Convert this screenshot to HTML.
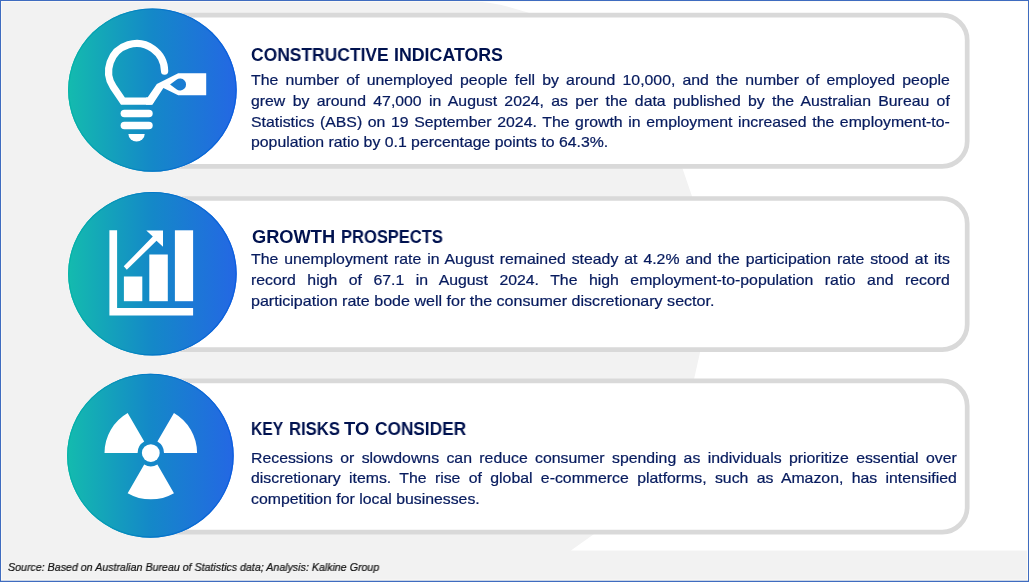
<!DOCTYPE html>
<html lang="en">
<head>
<meta charset="utf-8">
<title>Sector Indicators</title>
<style>
  html, body { margin: 0; padding: 0; }
  body { width: 1029px; height: 582px; overflow: hidden; background: #f2f2f2; position: relative;
         font-family: "Liberation Sans", sans-serif; }
  #bg { position: absolute; left: 0; top: 0; width: 1029px; height: 582px; display: block; }
  .t { position: absolute; white-space: nowrap; transform-origin: 0 0; margin: 0; padding: 0; will-change: transform; }
  .hd { margin: 0; padding: 0; font-size: 0; line-height: 0; }
  .h { display: block; font-weight: bold; font-size: 17.6px; line-height: 20px; color: #00124f; }
  .para { margin: 0; padding: 0; font-size: 0; line-height: 0; }
  .b { display: block; font-size: 15px; line-height: 18px; color: #071b5e; -webkit-text-stroke: 0.22px #071b5e; }
  .j { text-align: justify; text-align-last: justify; }
  .src { display: block; font-style: italic; font-size: 10.9px; line-height: 14px; color: #111111; -webkit-text-stroke: 0.2px #111111; }
</style>
</head>
<body>
<svg id="bg" width="1029" height="582" viewBox="0 0 1029 582">
  <defs>
    <linearGradient id="g1" gradientUnits="userSpaceOnUse" x1="68" y1="0" x2="237" y2="0">
      <stop offset="0" stop-color="#14bbae"/>
      <stop offset="0.5" stop-color="#1488c8"/>
      <stop offset="1" stop-color="#2467e4"/>
    </linearGradient>
    <linearGradient id="g3" gradientUnits="userSpaceOnUse" x1="67" y1="0" x2="234" y2="0">
      <stop offset="0" stop-color="#14bbae"/>
      <stop offset="0.5" stop-color="#1488c8"/>
      <stop offset="1" stop-color="#2467e4"/>
    </linearGradient>
    <linearGradient id="r1" gradientUnits="userSpaceOnUse" x1="68" y1="0" x2="237" y2="0">
      <stop offset="0" stop-color="#05b4a8"/>
      <stop offset="0.5" stop-color="#0478c6"/>
      <stop offset="1" stop-color="#0b5de0"/>
    </linearGradient>
    <linearGradient id="r3" gradientUnits="userSpaceOnUse" x1="67" y1="0" x2="234" y2="0">
      <stop offset="0" stop-color="#05b4a8"/>
      <stop offset="0.5" stop-color="#0478c6"/>
      <stop offset="1" stop-color="#0b5de0"/>
    </linearGradient>
  </defs>

  <!-- page background -->
  <rect x="0" y="0" width="1029" height="582" fill="#f2f2f2"/>
  <!-- white area on the right with curved left boundary -->
  <path d="M470,1 C490,1.5 512,7 528,12.6 C612,48 668,112 682.6,168.7 L692,196.2 C706,250 707,305 700.1,351.9 L694.2,378.5 C680,440 645,500 593.4,534.4 L570.9,550.6 L1029,550.6 L1029,0 Z" fill="#ffffff"/>

  <!-- panels -->
  <g fill="#ffffff" stroke="#d9d9d9" stroke-width="4.7">
    <rect x="150" y="15.15" width="817.2" height="151.2" rx="25" ry="25"/>
    <rect x="150" y="198.5" width="817.2" height="151.1" rx="25" ry="25"/>
    <rect x="150" y="380.9" width="817.2" height="151.2" rx="25" ry="25"/>
  </g>

  <!-- circles -->
  <g>
    <ellipse cx="152.4" cy="90.1" rx="84.7" ry="82.1" fill="#fff7f5" opacity="0.8"/>
    <ellipse cx="152.4" cy="273.7" rx="84.7" ry="82.2" fill="#fff7f5" opacity="0.8"/>
    <ellipse cx="150.4" cy="455.65" rx="83.7" ry="82.4" fill="#fff7f5" opacity="0.8"/>
    <ellipse cx="152.4" cy="90.1" rx="84.3" ry="81.7" fill="url(#g1)"/>
    <ellipse cx="152.4" cy="273.7" rx="84.3" ry="81.8" fill="url(#g1)"/>
    <ellipse cx="150.4" cy="455.65" rx="83.3" ry="82" fill="url(#g3)"/>
    <ellipse cx="152.4" cy="90.1" rx="83.7" ry="81.1" fill="none" stroke="url(#r1)" stroke-width="1.2"/>
    <ellipse cx="152.4" cy="273.7" rx="83.7" ry="81.2" fill="none" stroke="url(#r1)" stroke-width="1.2"/>
    <ellipse cx="150.4" cy="455.65" rx="82.7" ry="81.4" fill="none" stroke="url(#r3)" stroke-width="1.2"/>
  </g>

  <!-- icon 1 : light bulb with tag -->
  <g id="bulb">
    <path d="M164.6,71.1 A28,28 0 1 0 113.3,87.1 L122.9,101.1 L150,101.1"
          fill="none" stroke="#ffffff" stroke-width="7.3" stroke-linecap="round" stroke-linejoin="miter" stroke-miterlimit="6"/>
    <path d="M147.56,97.45 L156.84,84.1 L178.2,73.3 L206.2,73.3 L206.2,95.2 L178.2,95.2 L163.4,88 L152.4,104.75 L146,104.75 L146,97.45 Z" fill="#ffffff"/>
    <path d="M170.05,84.4 L176.46,79.65 A6,6 0 1 1 176.46,89.25 Z" fill="url(#g1)"/>
    <rect x="120.6" y="109.65" width="32.1" height="7.55" rx="3.78" fill="#ffffff"/>
    <rect x="120.6" y="121.8" width="32.1" height="7.5" rx="3.75" fill="#ffffff"/>
    <path d="M128.4,133.9 L144.7,133.9 A8.15,7.6 0 0 1 128.4,133.9 Z" fill="#ffffff"/>
  </g>

  <!-- icon 2 : bar chart with arrow -->
  <g id="chart" fill="#ffffff">
    <path d="M109.4,230.3 H117.1 V308 H193.1 V315.6 H109.4 Z"/>
    <rect x="123.9" y="276.5" width="18.4" height="24.7"/>
    <rect x="149.3" y="254.5" width="18.5" height="46.7"/>
    <rect x="174.9" y="230.3" width="18.2" height="70.9"/>
    <path d="M146.3,230.4 L163,230.4 L163,246.8 L156.5,240.8 L126.8,269.7 L123.75,266.3 L152.8,236.6 Z"/>
  </g>

  <!-- icon 3 : radiation -->
  <g id="rad" fill="#ffffff" transform="translate(0,0.5)">
    <circle cx="150.8" cy="452.55" r="8.9"/>
    <path d="M104.5,452.55 A46.3,46.3 0 0 1 127.65,412.45 L144.2,441.12 A13.2,13.2 0 0 0 137.6,452.55 Z"/>
    <path d="M197.1,452.55 A46.3,46.3 0 0 0 173.95,412.45 L157.4,441.12 A13.2,13.2 0 0 1 164,452.55 Z"/>
    <path d="M127.65,492.65 A46.3,46.3 0 0 0 173.95,492.65 L157.4,463.98 A13.2,13.2 0 0 1 144.2,463.98 Z"/>
  </g>

  <!-- outer frame -->
  <path d="M1.5,580 V1.5 H1027" fill="none" stroke="#fdfbf6" stroke-width="1" opacity="0.75"/>
  <path d="M1,580.2 H1027.5 V1" fill="none" stroke="#fefcf7" stroke-width="1"/>
  <rect x="0.5" y="0.5" width="1028" height="581" fill="none" stroke="#3f6cc0" stroke-width="1"/>
  <rect x="0" y="580.75" width="1029" height="1.25" fill="#3f6cc0"/>
</svg>

<h2 class="hd" id="h1">
  <span class="t h" id="h1w0" style="left:251.11px; top:44.6px; transform:scaleX(0.9920);">CONSTRUCTIVE</span>
  <span class="t h" id="h1w1" style="left:394.09px; top:44.6px; transform:scaleX(1.0104);">INDICATORS</span>
</h2>
<p class="para" id="p1">
  <span class="t b j" id="p1l1" style="left:251.2px; top:71px; width:662.4px; transform:scaleX(1.055);">The number of unemployed people fell by around 10,000, and the number of employed people</span>
  <span class="t b j" id="p1l2" style="left:251.2px; top:91.7px; width:662.4px; transform:scaleX(1.055);">grew by around 47,000 in August 2024, as per the data published by the Australian Bureau of</span>
  <span class="t b j" id="p1l3" style="left:251.2px; top:112.5px; width:662.4px; transform:scaleX(1.055);">Statistics (ABS) on 19 September 2024. The growth in employment increased the employment-to-</span>
  <span class="t b" id="p1l4" style="left:251.2px; top:133.2px; transform:scaleX(1.055);">population ratio by 0.1 percentage points to 64.3%.</span>
</p>

<h2 class="hd" id="h2">
  <span class="t h" id="h2w0" style="left:251.57px; top:226.5px; transform:scaleX(1.0370);">GROWTH</span>
  <span class="t h" id="h2w1" style="left:340.77px; top:226.5px; transform:scaleX(0.9390);">PROSPECTS</span>
</h2>
<p class="para" id="p2">
  <span class="t b j" id="p2l1" style="left:251.2px; top:250.4px; width:662.4px; transform:scaleX(1.055);">The unemployment rate in August remained steady at 4.2% and the participation rate stood at its</span>
  <span class="t b j" id="p2l2" style="left:251.2px; top:271px; width:662.4px; transform:scaleX(1.055);">record high of 67.1 in August 2024. The high employment-to-population ratio and record</span>
  <span class="t b" id="p2l3" style="left:251.2px; top:291.5px; transform:scaleX(1.071);">participation rate bode well for the consumer discretionary sector.</span>
</p>

<h2 class="hd" id="h3">
  <span class="t h" id="h3w0" style="left:251.43px; top:419.1px; transform:scaleX(0.8876);">KEY</span>
  <span class="t h" id="h3w1" style="left:288.86px; top:419.1px; transform:scaleX(0.9480);">RISKS</span>
  <span class="t h" id="h3w2" style="left:344.39px; top:419.1px; transform:scaleX(1.0433);">TO</span>
  <span class="t h" id="h3w3" style="left:375.21px; top:419.1px; transform:scaleX(0.9804);">CONSIDER</span>
</h2>
<p class="para" id="p3">
  <span class="t b j" id="p3l1" style="left:251.4px; top:449.2px; width:669px; transform:scaleX(1.055);">Recessions or slowdowns can reduce consumer spending as individuals prioritize essential over</span>
  <span class="t b j" id="p3l2" style="left:251.4px; top:469.4px; width:669px; transform:scaleX(1.055);">discretionary items. The rise of global e-commerce platforms, such as Amazon, has intensified</span>
  <span class="t b" id="p3l3" style="left:251.4px; top:490px; transform:scaleX(1.055);">competition for local businesses.</span>
</p>

<p class="para"><span class="t src" id="src" style="left:7.6px; top:559.9px; transform:scaleX(0.977);">Source: Based on Australian Bureau of Statistics data; Analysis: Kalkine Group</span></p>
</body>
</html>
